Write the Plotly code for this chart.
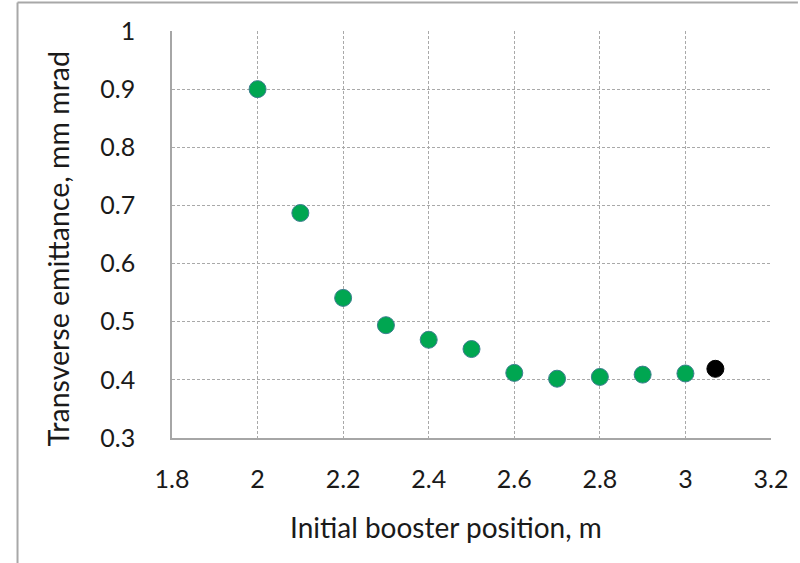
import plotly.graph_objects as go

# Booster position scan
position_m = [2.0, 2.1, 2.2, 2.3, 2.4, 2.5, 2.6, 2.7, 2.8, 2.9, 3.0]
emittance_mm_mrad = [0.900, 0.687, 0.541, 0.494, 0.469, 0.453, 0.412, 0.402, 0.405, 0.409, 0.411]

# Optimum point
opt_position_m = [3.07]
opt_emittance_mm_mrad = [0.419]

x_ticks = [1.8, 2.0, 2.2, 2.4, 2.6, 2.8, 3.0, 3.2]
x_tick_text = ["1.8", "2", "2.2", "2.4", "2.6", "2.8", "3", "3.2"]
y_ticks = [0.3, 0.4, 0.5, 0.6, 0.7, 0.8, 0.9, 1.0]
y_tick_text = ["0.3", "0.4", "0.5", "0.6", "0.7", "0.8", "0.9", "1"]

FONT = "Lato"
TXT = "#1a1a1a"

fig = go.Figure()
fig.add_trace(go.Scatter(
    x=position_m, y=emittance_mm_mrad, mode="markers",
    marker=dict(size=17, color="#00a651", line=dict(color="#3d7f8f", width=1)),
    showlegend=False, cliponaxis=False,
))
fig.add_trace(go.Scatter(
    x=opt_position_m, y=opt_emittance_mm_mrad, mode="markers",
    marker=dict(size=17, color="#000000", line=dict(color="#000000", width=1)),
    showlegend=False, cliponaxis=False,
))

grid = dict(showgrid=True, gridcolor="#a9a9a9", gridwidth=1, griddash="3px,2px",
            zeroline=False, ticks="", showline=True, linecolor="#a6a6a6", linewidth=1.5,
            tickfont=dict(family=FONT, size=25, color=TXT))

fig.update_xaxes(range=[1.8, 3.2], tickvals=x_ticks, ticktext=x_tick_text, ticklabelstandoff=18, **grid)
fig.update_yaxes(range=[0.3, 1.0], tickvals=y_ticks, ticktext=y_tick_text, ticklabelstandoff=30, **grid)

fig.update_layout(
    width=800, height=563,
    margin=dict(l=172, r=27, t=31, b=125),
    paper_bgcolor="white", plot_bgcolor="white",
    annotations=[
        dict(text="Initial booster position, m", x=447, y=563 - 527,
             showarrow=False, font=dict(family=FONT, size=28, color=TXT)),
        dict(text="Transverse emittance, mm mrad", x=58, y=563 - 249, textangle=-90,
             showarrow=False, font=dict(family=FONT, size=28.5, color=TXT)),
    ],
    shapes=[
        dict(type="line", x0=17, x1=17, y0=0, y1=560.5, line=dict(color="#a8a8a8", width=2)),
        dict(type="line", x0=17, x1=800, y0=560.5, y1=560.5, line=dict(color="#a8a8a8", width=2)),
    ],
)

# Convert pixel positions of titles and frame to paper coordinates
pw = 800 - 172 - 27
ph = 563 - 31 - 125
for a in fig.layout.annotations:
    a.xref = "paper"
    a.yref = "paper"
    a.x = (a.x - 172) / pw
    a.y = (a.y - 125) / ph
    a.xanchor = "center"
    a.yanchor = "middle"
for s in fig.layout.shapes:
    s.xref = "paper"
    s.yref = "paper"
    s.x0 = (s.x0 - 172) / pw
    s.x1 = (s.x1 - 172) / pw
    s.y0 = (s.y0 - 125) / ph
    s.y1 = (s.y1 - 125) / ph

fig.write_html("out.html")
